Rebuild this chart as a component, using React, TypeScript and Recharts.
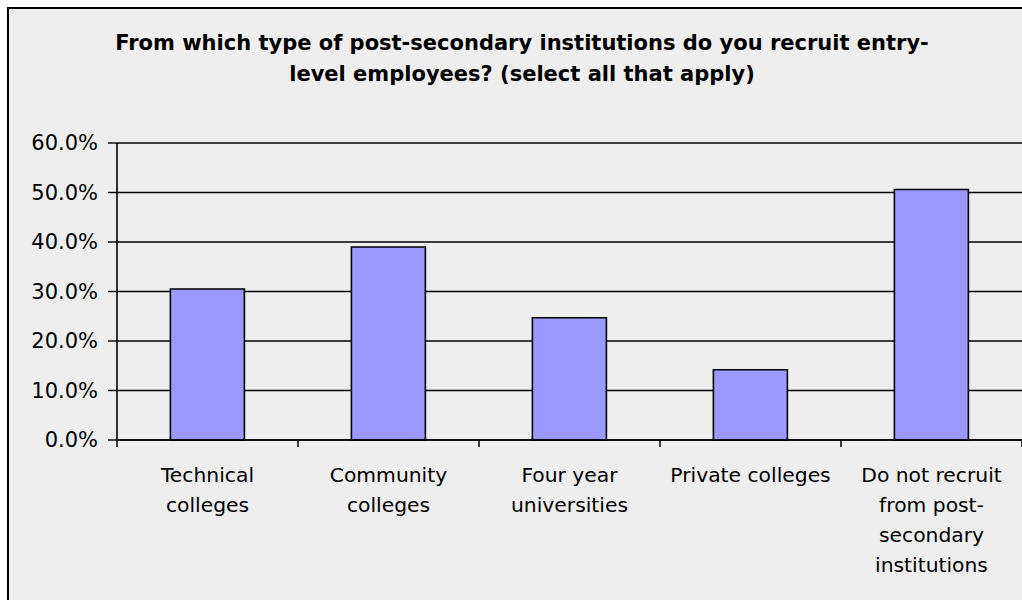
import React from 'react';
import { BarChart, Bar, XAxis, YAxis, CartesianGrid } from 'recharts';

const categories = [
  'Technical colleges',
  'Community colleges',
  'Four year universities',
  'Private colleges',
  'Do not recruit from post-secondary institutions',
];
const categoryLines = [
  ['Technical', 'colleges'],
  ['Community', 'colleges'],
  ['Four year', 'universities'],
  ['Private colleges'],
  ['Do not recruit', 'from post-', 'secondary', 'institutions'],
];
const values = [30.5, 39.0, 24.7, 14.2, 50.6];
const yTicks = [0, 10, 20, 30, 40, 50, 60];
const titleLines = [
  'From which type of post-secondary institutions do you recruit entry-',
  'level employees? (select all that apply)',
];

const data = categories.map((name, i) => ({ name, value: values[i] }));

const FONT = '"DejaVu Sans", Verdana, sans-serif';

const CategoryTick = (props: any) => {
  const { x, y, payload, width, visibleTicksCount } = props;
  const idx = categories.indexOf(payload.value);
  const count = visibleTicksCount || categories.length;
  const band = width && count ? width / count : (payload.offset || 0) * 2;
  const lines = categoryLines[idx] || [String(payload.value)];
  return (
    <g>
      <line x1={x - band / 2} x2={x - band / 2} y1={y - 7} y2={y} stroke="#000" strokeWidth={1.5} />
      {idx === categories.length - 1 && (
        <line x1={x + band / 2} x2={x + band / 2} y1={y - 7} y2={y} stroke="#000" strokeWidth={1.5} />
      )}
      <text x={x} y={y} textAnchor="middle" fontSize={20.3} fontFamily={FONT} fill="#000">
        {lines.map((l, i) => (
          <tspan key={i} x={x} dy={i === 0 ? 35 : 30}>
            {l}
          </tspan>
        ))}
      </text>
    </g>
  );
};

export default function App() {
  return (
    <div style={{ position: 'absolute', left: 0, top: 0, width: 1022, height: 600, overflow: 'hidden', background: '#fff' }}>
      <div
        style={{
          position: 'absolute',
          left: 7,
          top: 7,
          width: 1060,
          height: 640,
          borderLeft: '2px solid #000',
          borderTop: '2px solid #000',
          background: '#eeeeee',
        }}
      />
      <svg style={{ position: 'absolute', left: 0, top: 0 }} width={1022} height={600}>
        {titleLines.map((t, i) => (
          <text
            key={i}
            x={522}
            y={50 + i * 31}
            textAnchor="middle"
            fontSize={21}
            fontWeight="bold"
            fontFamily={FONT}
            fill="#000"
          >
            {t}
          </text>
        ))}
      </svg>
      <div style={{ position: 'absolute', left: 0, top: 0 }}>
        <BarChart
          width={1022}
          height={600}
          data={data}
          margin={{ top: 143, right: 0, bottom: 0, left: 0 }}
          barCategoryGap="29.5%"
        >
          <CartesianGrid horizontal={true} vertical={false} stroke="#000" strokeWidth={1.4} />
          <XAxis
            dataKey="name"
            height={160}
            interval={0}
            axisLine={{ stroke: '#000', strokeWidth: 1.6 }}
            tickLine={false}
            tickSize={7}
            tickMargin={0}
            tick={<CategoryTick />}
          />
          <YAxis
            width={117}
            domain={[0, 60]}
            ticks={yTicks}
            interval={0}
            tickFormatter={(v: number) => v.toFixed(1) + '%'}
            axisLine={{ stroke: '#000', strokeWidth: 1.6 }}
            tickLine={{ stroke: '#000', strokeWidth: 1.4 }}
            tickSize={9}
            tickMargin={10}
            tick={{ fill: '#000', fontSize: 21, fontFamily: FONT }}
          />
          <Bar dataKey="value" fill="#9999FF" stroke="#000" strokeWidth={1.6} isAnimationActive={false} />
        </BarChart>
      </div>
    </div>
  );
}
